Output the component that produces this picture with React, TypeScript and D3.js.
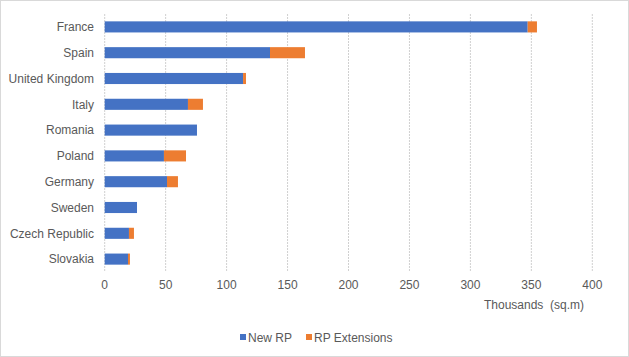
import React from "react";
import * as d3 from "d3";

const categories = ["France", "Spain", "United Kingdom", "Italy", "Romania", "Poland", "Germany", "Sweden", "Czech Republic", "Slovakia"];
const newRP = [347, 135.6, 113.5, 68.3, 75.7, 48.6, 51.1, 26.5, 19.9, 19.1];
const rpExt = [7.6, 28.7, 2.4, 12.3, 0, 18.1, 9.0, 0, 4.1, 1.6];
const xTicks = [0, 50, 100, 150, 200, 250, 300, 350, 400];
const seriesNames = ["New RP", "RP Extensions"];
const colors = ["#4472C4", "#ED7D31"];

export default function App() {
  const W = 629, H = 357;
  const x = d3.scaleLinear().domain([0, 400]).range([104.7, 592.3]);
  const y = d3.scaleBand<string>().domain(categories).range([14, 272]).paddingInner(0.57).paddingOuter(0.285);
  const font = "'Liberation Sans', Arial, sans-serif";
  const txt = "#595959";
  const stack = categories.map((c, i) => ({ c, a: newRP[i], b: rpExt[i] }));
  return (
    <svg width={W} height={H} style={{ position: "absolute", left: 0, top: 0 }} fontFamily={font}>
      <rect x={0.5} y={0.5} width={W - 1} height={H - 1} fill="#fff" stroke="#d9d9d9" />
      {xTicks.map((t) => (
        <line key={t} x1={x(t)} x2={x(t)} y1={14} y2={272} stroke="#d0d0d0" strokeWidth={1} strokeDasharray="2,1" />
      ))}
      {stack.map((d) => (
        <g key={d.c}>
          <rect x={x(0)} y={y(d.c)} width={x(d.a) - x(0)} height={y.bandwidth()} fill={colors[0]} />
          {d.b > 0 && (
            <rect x={x(d.a)} y={y(d.c)} width={x(d.a + d.b) - x(d.a)} height={y.bandwidth()} fill={colors[1]} />
          )}
          <text x={94} y={(y(d.c) as number) + y.bandwidth() / 2} dy="0.35em" textAnchor="end" fontSize={12} fill={txt}>
            {d.c}
          </text>
        </g>
      ))}
      {xTicks.map((t) => (
        <text key={t} x={x(t)} y={285} dy="0.35em" textAnchor="middle" fontSize={12} fill={txt}>
          {t}
        </text>
      ))}
      <text x={534} y={305} dy="0.35em" textAnchor="middle" fontSize={12} fill={txt} style={{ whiteSpace: "pre" }}>
        {"Thousands  (sq.m)"}
      </text>
      <g>
        <rect x={240} y={334} width={6} height={6} fill={colors[0]} />
        <text x={248} y={337.5} dy="0.35em" fontSize={12} fill={txt}>{seriesNames[0]}</text>
        <rect x={306} y={334} width={6} height={6} fill={colors[1]} />
        <text x={314} y={337.5} dy="0.35em" fontSize={12} fill={txt}>{seriesNames[1]}</text>
      </g>
    </svg>
  );
}
